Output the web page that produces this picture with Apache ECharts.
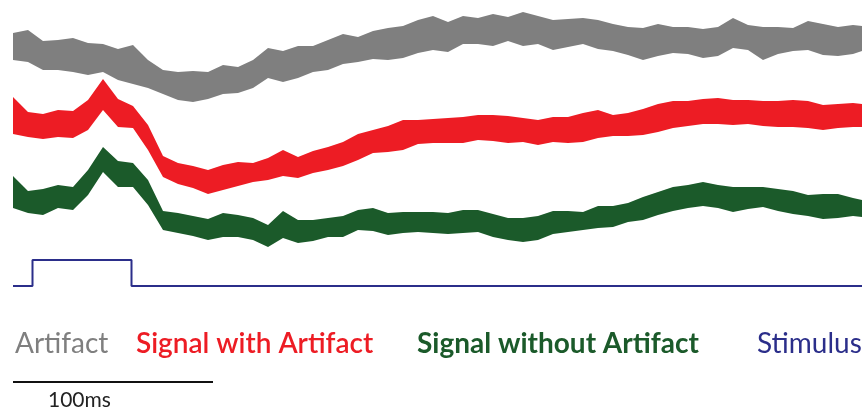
<!DOCTYPE html>
<html>
<head>
<meta charset="utf-8">
<script src="https://cdn.jsdelivr.net/npm/echarts@6/dist/echarts.min.js"></script>
<style>
  html, body { margin: 0; padding: 0; background: #fff; }
  #chart { width: 868px; height: 412px; }
</style>
</head>
<body>
<div id="chart"></div>
<script>
// sample times, ms (one sample every 7.5 ms, last one at the trace end)
var times = [];
for (var k = 0; k <= 56; k++) times.push(k * 7.5);
times.push(424.5);

// trace envelopes (upper edge / lower edge), screen depth units
var artifactTop = [33,30,41,40,38,43,44,49,45,60,70,72,71,72,65,67,60,48,51,46,46,40,34,37,31,28,26,20,16,22,16,18,14,17,12,16,20,19,18,20,24,27,28,24,27,27,29,27,18,25,27,27,28,21,24,27,25,26];
var artifactBot = [60,62,70,70,72,75,72,80,84,88,94,100,102,99,94,93,88,78,82,78,72,70,64,62,59,60,58,53,50,52,44,44,46,41,46,44,50,47,44,49,51,55,60,56,53,54,58,56,48,50,60,54,51,50,55,56,54,51];

var withTop = [97,112,114,110,111,100,79,99,106,125,156,163,166,170,165,162,163,158,150,157,151,147,142,134,130,126,120,120,119,118,117,115,115,116,118,120,117,117,113,110,115,113,109,104,101,101,99,98,100,100,101,101,100,101,105,104,103,104];
var withBot = [134,137,139,137,138,130,110,127,128,150,177,184,188,194,190,186,182,180,176,178,173,170,166,160,153,152,150,144,143,143,143,140,141,143,142,145,142,143,142,138,136,136,135,132,128,126,124,124,125,124,126,127,127,128,130,128,127,127];

var withoutTop = [176,191,189,185,187,170,147,161,163,180,211,213,216,219,213,215,218,225,211,220,220,218,216,210,208,213,212,212,212,213,210,210,214,218,218,216,211,211,212,206,206,203,197,192,187,185,182,185,187,187,187,189,191,195,194,194,198,200];
var withoutBot = [208,213,215,208,210,195,172,187,187,205,230,233,236,240,237,237,240,247,238,243,241,237,237,230,231,235,233,232,233,234,233,232,237,240,242,240,234,232,230,228,227,222,220,215,211,208,206,208,212,209,207,211,214,216,219,218,216,217];

// stimulus pulse
var stimTimes = [0, 9.75, 59.25, 424.5];
var stimLevel = [286, 260, 286, 286];

// scale bar, ms
var scaleBar = [0, 100];

var labels = ['Artifact', 'Signal with Artifact', 'Signal without Artifact', 'Stimulus'];
var colors = ['#7f7f7f', '#ed1c24', '#1b5a2a', '#2b2e8a'];

// one filled polygon per trace: upper edge forward, lower edge back
function bandRender(params, api) {
    if (params.dataIndexInside !== 0) return null;
    var n = params.dataInsideLength;
    var pts = [];
    for (var i = 0; i < n; i++) pts.push(api.coord([api.value(0, i), api.value(1, i)]));
    for (var j = n - 1; j >= 0; j--) pts.push(api.coord([api.value(0, j), api.value(2, j)]));
    return {
        type: 'polygon',
        shape: { points: pts },
        style: { fill: api.visual('color') }
    };
}

function band(name, top, bot, color) {
    return {
        name: name,
        type: 'custom',
        silent: true,
        itemStyle: { color: color },
        renderItem: bandRender,
        encode: { x: 0, y: [1, 2] },
        data: times.map(function (t, i) { return [t, top[i], bot[i]]; })
    };
}

var chart = echarts.init(document.getElementById('chart'));
var series = [
    band(labels[0], artifactTop, artifactBot, colors[0]),
    band(labels[1], withTop, withBot, colors[1]),
    band(labels[2], withoutTop, withoutBot, colors[2])
];
series.push({
    name: labels[3],
    type: 'line',
    step: 'end',
    symbol: 'none',
    silent: true,
    lineStyle: { color: colors[3], width: 2 },
    data: stimTimes.map(function (t, i) { return [t, stimLevel[i]]; })
});
series.push({
    type: 'line',
    xAxisIndex: 1,
    yAxisIndex: 1,
    symbol: 'none',
    silent: true,
    lineStyle: { color: '#111', width: 2 },
    data: scaleBar.map(function (t) { return [t, 0.5]; })
});

var legendX = [15, 136, 417, 757];
var legendWeight = ['normal', '600', 'bold', 'normal'];

chart.setOption({
    animation: false,
    grid: [
        { left: 13, right: 6, top: 0, bottom: 0 },
        { left: 13, right: 6, top: 381, height: 2 }
    ],
    xAxis: [
        { type: 'value', min: 0, max: 424.5, show: false },
        { type: 'value', min: 0, max: 424.5, show: false, gridIndex: 1 }
    ],
    yAxis: [
        { type: 'value', min: 0, max: 412, inverse: true, show: false },
        { type: 'value', min: 0, max: 1, show: false, gridIndex: 1 }
    ],
    series: series,
    graphic: labels.map(function (s, i) {
        return {
            type: 'text',
            left: legendX[i],
            top: 330,
            style: {
                text: s,
                fill: colors[i],
                font: legendWeight[i] + ' 28px Lato, sans-serif'
            }
        };
    }).concat([{
        type: 'text',
        left: 48,
        top: 390,
        style: { text: '100ms', fill: '#222', font: '21px Lato, sans-serif' }
    }])
});
</script>
</body>
</html>
